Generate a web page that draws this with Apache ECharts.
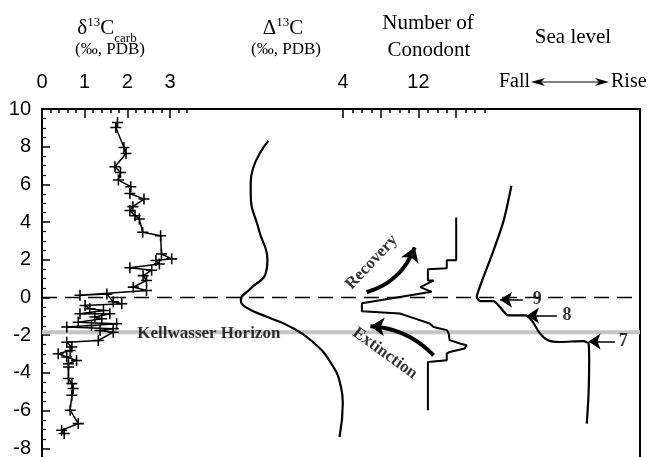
<!DOCTYPE html>
<html>
<head>
<meta charset="utf-8">
<script src="https://cdn.jsdelivr.net/npm/echarts@6/dist/echarts.min.js"></script>
<style>
  html, body { margin: 0; padding: 0; background: #fff; }
  #chart { width: 650px; height: 457px; }
</style>
</head>
<body>
<div id="chart"></div>
<script>
// Stratigraphic height (m): axis range, labels every 2 m
const heightRange = [-10, 10];

// δ13C carb (‰, PDB): [value, height]
const carbSeries = [
  [1.77, 9.28], [1.73, 9.02], [1.92, 7.96], [1.97, 7.64], [1.71, 6.94], [1.84, 6.63],
  [1.79, 6.23], [2.08, 5.88], [2.06, 5.52], [2.39, 5.22], [2.13, 4.82], [2.06, 4.61],
  [2.18, 4.34], [2.28, 4.17], [2.36, 3.46], [2.78, 3.28], [2.80, 2.31], [3.04, 2.05],
  [2.67, 1.96], [2.75, 1.78], [2.06, 1.58], [2.57, 1.45], [2.37, 1.16], [2.45, 0.90],
  [2.14, 0.55], [2.45, 0.37], [0.89, 0.12], [1.52, 0.18], [1.67, -0.22], [1.87, -0.33],
  [1.01, -0.42], [1.12, -0.60], [1.44, -0.69], [0.89, -0.86], [1.59, -0.86], [1.24, -1.04],
  [1.40, -1.13], [0.85, -1.31], [1.75, -1.39], [1.16, -1.48], [0.58, -1.57], [1.67, -1.66],
  [1.36, -1.75], [1.67, -1.84], [1.32, -2.28], [0.58, -2.37], [0.70, -2.63], [0.66, -2.81],
  [0.38, -2.98], [0.58, -3.16], [0.81, -3.34], [0.62, -3.51], [0.62, -3.69], [0.62, -4.30],
  [0.70, -4.57], [0.73, -4.83], [0.70, -5.19], [0.66, -5.98], [0.85, -6.69], [0.46, -7.04],
  [0.52, -7.22]
];
const carbTickLabels = [0, 1, 2, 3];
const carbTickRange = [0, 3, 3.4];        // labelled span, then minor-only tail

// Δ13C (‰): [value, height]
const deltaSeries = [
  [27.57, 8.31], [26.98, 6.10], [26.98, 5.51], [27.26, 3.55], [27.54, 1.96], [27.48, 1.27],
  [26.98, 0.48], [26.65, -0.16], [26.81, -0.51], [27.54, -1.04], [28.21, -1.48],
  [29.00, -2.28], [29.67, -3.49], [30.00, -4.75], [30.06, -5.61], [29.95, -7.40]
];

// Number of conodont species: [count, height]
const conodontSeries = [
  [16, 4.25], [16, 1.98], [15, 1.98], [15, 1.55], [13, 1.50], [13, 0.90], [13.6, 0.90],
  [12.2, 0.55], [13.4, 0.30], [6, -0.30], [6, -0.73], [10, -0.85], [11.1, -1.03],
  [13.2, -1.38], [13.6, -1.56], [15, -1.73], [15.2, -1.90], [15.3, -2.26], [16.4, -2.44],
  [17.1, -2.53], [16.9, -2.71], [15.3, -2.89], [15, -2.98], [15, -3.33], [13, -3.42], [13, -5.98]
];
const conodontTickLabels = [4, 12];
const conodontTickRange = [4, 16, 19];    // major span, then minor-only tail

// Relative sea level (fall → rise): [index, height]
const seaLevelSeries = [
  [78.5, 5.93], [77.2, 4.08], [75.5, 2.49], [73.8, 1.07], [73.0, 0.37], [72.7, 0.02],
  [73.3, -0.19], [75.5, -0.19], [76.6, -0.51], [78.0, -0.95], [80.8, -0.95], [81.9, -1.22],
  [83.3, -1.92], [84.7, -2.28], [86.6, -2.36], [90.5, -2.31], [91.4, -2.45], [91.5, -3.34],
  [91.4, -5.10], [91.1, -6.69]
];
// Sea-level event markers: [label, tip index, tail index, text index, height]
const seaEvents = [
  ['9', 76.6, 80.4, 82.8, -0.12],
  ['8', 81.1, 86.1, 87.8, -0.95],
  ['7', 91.4, 95.8, 97.2, -2.33]
];

const zeroLine = 0;
const kellwasserLevel = -1.85;
const carbAxisMax = 14.015;
const conodontAxisRange = [-27.92, 35.49];

const serif = '"Liberation Serif", "Times New Roman", serif';
const sans = '"Liberation Sans", Arial, sans-serif';

// Main plot frame geometry
const plotLeft = 42, plotWidth = 598, plotTop = 109;
const carbScale = plotWidth / carbAxisMax;
const conodontScale = plotWidth / (conodontAxisRange[1] - conodontAxisRange[0]);

const chart = echarts.init(document.getElementById('chart'), null, { renderer: 'canvas' });

const plusSymbol = 'path://M4.3,0H5.7V4.3H10V5.7H5.7V10H4.3V5.7H0V4.3H4.3Z';

function hiddenX(min, max, labels) {
  return {
    type: 'value', position: 'top', min: min, max: max,
    axisLine: { show: false, onZero: false }, axisTick: { show: false },
    axisLabel: labels
      ? { show: true, customValues: labels, margin: 17, fontSize: 20, color: '#000', fontFamily: sans }
      : { show: false },
    splitLine: { show: false }
  };
}

// Thin strips along the top frame that carry the inward tick marks of each scale
const tickStrips = [
  { left: plotLeft + carbTickRange[0] * carbScale, width: (carbTickRange[1] - carbTickRange[0]) * carbScale,
    min: carbTickRange[0], max: carbTickRange[1], interval: 1, len: 9, minor: 5 },
  { left: plotLeft + carbTickRange[1] * carbScale, width: (carbTickRange[2] - carbTickRange[1]) * carbScale,
    min: carbTickRange[1], max: carbTickRange[2], interval: 0.2, len: 4, minor: 0 },
  { left: plotLeft + (conodontTickRange[0] - conodontAxisRange[0]) * conodontScale,
    width: (conodontTickRange[1] - conodontTickRange[0]) * conodontScale,
    min: conodontTickRange[0], max: conodontTickRange[1], interval: 4, len: 9, minor: 4 },
  { left: plotLeft + (conodontTickRange[1] - conodontAxisRange[0]) * conodontScale,
    width: (conodontTickRange[2] - conodontTickRange[1]) * conodontScale,
    min: conodontTickRange[1], max: conodontTickRange[2], interval: 1, len: 4, minor: 0 }
];

const plainLabel = { textBorderWidth: 0, textBorderColor: 'transparent', textShadowBlur: 0 };

const grids = [{ left: plotLeft, right: 650 - plotLeft - plotWidth, top: plotTop, bottom: -29, outerBoundsMode: 'none' }]
  .concat(tickStrips.map(s => ({ left: s.left, width: s.width, top: plotTop, height: 1, outerBoundsMode: 'none' })));

const stripXAxes = tickStrips.map((s, i) => ({
  type: 'value', gridIndex: i + 1, position: 'top', min: s.min, max: s.max, interval: s.interval,
  axisLine: { show: false, onZero: false },
  axisTick: { show: true, inside: true, length: s.len, lineStyle: { color: '#000', width: 1.5 } },
  minorTick: { show: s.minor > 0, splitNumber: s.minor || 5, length: 4, lineStyle: { color: '#000', width: 1.5 } },
  axisLabel: { show: false }, splitLine: { show: false }, minorSplitLine: { show: false }
}));
const stripYAxes = tickStrips.map((s, i) => ({
  type: 'value', gridIndex: i + 1, min: 0, max: 1, show: false
}));

const option = {
  animation: false,
  backgroundColor: '#fff',
  grid: grids,
  xAxis: [
    { // δ13C axis + top frame line
      type: 'value', gridIndex: 0, position: 'top', min: 0, max: carbAxisMax,
      axisLine: { show: true, onZero: false, lineStyle: { color: '#000', width: 2 } },
      axisTick: { show: false },
      axisLabel: { show: true, customValues: carbTickLabels, margin: 17, fontSize: 20, color: '#000', fontFamily: sans },
      splitLine: { show: false }
    },
    hiddenX(20, 40), // Δ13C
    hiddenX(conodontAxisRange[0], conodontAxisRange[1], conodontTickLabels), // conodont count
    hiddenX(0, 100) // sea level
  ].concat(stripXAxes),
  yAxis: [
    {
      type: 'value', gridIndex: 0, position: 'left', min: heightRange[0], max: heightRange[1], interval: 2,
      axisLine: { show: true, onZero: false, lineStyle: { color: '#000', width: 2 } },
      axisTick: { show: true, inside: true, length: 8, lineStyle: { color: '#000', width: 1.5 } },
      minorTick: { show: true, splitNumber: 4, length: 4, lineStyle: { color: '#000', width: 1.2 } },
      axisLabel: { show: true, margin: 11, fontSize: 20, color: '#000', fontFamily: sans },
      splitLine: { show: false }
    },
    {
      type: 'value', gridIndex: 0, position: 'right', min: heightRange[0], max: heightRange[1],
      axisLine: { show: true, onZero: false, lineStyle: { color: '#000', width: 2 } },
      axisTick: { show: false }, axisLabel: { show: false }, splitLine: { show: false }
    }
  ].concat(stripYAxes),
  series: [
    { // Kellwasser Horizon band
      type: 'line', xAxisIndex: 0, yAxisIndex: 0, z: 1, silent: true, showSymbol: false,
      data: [[0, kellwasserLevel], [carbAxisMax, kellwasserLevel]],
      lineStyle: { color: '#c4c4c4', width: 4 }
    },
    { // F/F boundary
      type: 'line', xAxisIndex: 0, yAxisIndex: 0, z: 2, silent: true, showSymbol: false,
      data: [[0, zeroLine], [carbAxisMax, zeroLine]],
      lineStyle: { color: '#000', width: 1.5, type: [15, 8] }
    },
    {
      name: 'δ13C carb', type: 'line', xAxisIndex: 0, yAxisIndex: 0, z: 3,
      data: carbSeries,
      symbol: plusSymbol, symbolSize: 11,
      itemStyle: { color: '#000' },
      lineStyle: { color: '#000', width: 1.5 }
    },
    {
      name: 'Δ13C', type: 'line', xAxisIndex: 1, yAxisIndex: 0, z: 3,
      data: deltaSeries, smooth: 0.5, showSymbol: false,
      lineStyle: { color: '#000', width: 2.2 }
    },
    {
      name: 'Number of conodont', type: 'line', xAxisIndex: 2, yAxisIndex: 0, z: 3,
      data: conodontSeries, showSymbol: false,
      lineStyle: { color: '#000', width: 2 }
    },
    {
      name: 'Sea level', type: 'line', xAxisIndex: 3, yAxisIndex: 0, z: 3,
      data: seaLevelSeries, smooth: 0.25, showSymbol: false,
      lineStyle: { color: '#000', width: 2.2 }
    },
    { // sea-level event arrows
      type: 'lines', coordinateSystem: 'cartesian2d', xAxisIndex: 3, yAxisIndex: 0, z: 4,
      symbol: ['none', 'arrow'], symbolSize: [8, 12],
      lineStyle: { color: '#000', width: 1.5, curveness: 0, opacity: 1 },
      data: seaEvents.map(e => ({ coords: [[e[2], e[4]], [e[1], e[4]]] }))
    },
    {
      type: 'scatter', xAxisIndex: 3, yAxisIndex: 0, z: 4, symbolSize: 0,
      data: seaEvents.map(e => ({ value: [e[3], e[4]], label: { formatter: e[0] } })),
      label: Object.assign({ show: true, position: 'inside', color: '#000', fontFamily: serif, fontWeight: 'bold', fontSize: 18 }, plainLabel)
    },
    { // recovery / extinction trend arrows
      type: 'lines', coordinateSystem: 'cartesian2d', xAxisIndex: 2, yAxisIndex: 0, z: 4,
      symbol: ['none', 'arrow'], symbolSize: [12, 14],
      lineStyle: { color: '#000', width: 4, opacity: 1 },
      data: [
        { coords: [[6.5, 0.28], [11.6, 2.66]], lineStyle: { curveness: -0.25 } },
        { coords: [[13.6, -3.07], [6.9, -1.52]], lineStyle: { curveness: -0.2 } }
      ]
    },
    {
      type: 'scatter', xAxisIndex: 2, yAxisIndex: 0, z: 4, symbolSize: 0,
      data: [
        { value: [7.04, 1.87], label: { formatter: 'Recovery', rotate: 47 } },
        { value: [8.45, -2.96], label: { formatter: 'Extinction', rotate: -36 } }
      ],
      label: Object.assign({ show: true, position: 'inside', color: '#000', fontFamily: serif, fontWeight: 'bold', fontSize: 17 }, plainLabel)
    },
    {
      type: 'scatter', xAxisIndex: 0, yAxisIndex: 0, z: 4, symbolSize: 0,
      data: [{ value: [3.91, -1.9], label: { formatter: 'Kellwasser Horizon' } }],
      label: Object.assign({ show: true, position: 'inside', color: '#000', fontFamily: serif, fontWeight: 'bold', fontSize: 17 }, plainLabel)
    }
  ],
  graphic: [
    {
      type: 'text', x: 107, y: 28,
      style: {
        text: 'δ{sup|13}C{sub|carb}', fill: '#000', font: '21px ' + serif, align: 'center', verticalAlign: 'middle',
        rich: {
          sup: { fontSize: 13, fontFamily: serif, verticalAlign: 'top', lineHeight: 24 },
          sub: { fontSize: 13, fontFamily: serif, verticalAlign: 'bottom', lineHeight: 12, padding: [0, 0, -5, 0] }
        }
      }
    },
    { type: 'text', x: 110, y: 50, style: { text: '(‰, PDB)', fill: '#000', font: '17px ' + serif, align: 'center', verticalAlign: 'middle' } },
    {
      type: 'text', x: 283, y: 28,
      style: {
        text: 'Δ{sup|13}C', fill: '#000', font: '21px ' + serif, align: 'center', verticalAlign: 'middle',
        rich: { sup: { fontSize: 13, fontFamily: serif, verticalAlign: 'top', lineHeight: 24 } }
      }
    },
    { type: 'text', x: 286, y: 50, style: { text: '(‰, PDB)', fill: '#000', font: '17px ' + serif, align: 'center', verticalAlign: 'middle' } },
    { type: 'text', x: 428, y: 23, style: { text: 'Number of', fill: '#000', font: '21px ' + serif, align: 'center', verticalAlign: 'middle' } },
    { type: 'text', x: 429, y: 50, style: { text: 'Conodont', fill: '#000', font: '21px ' + serif, align: 'center', verticalAlign: 'middle' } },
    { type: 'text', x: 573, y: 37, style: { text: 'Sea level', fill: '#000', font: '21px ' + serif, align: 'center', verticalAlign: 'middle' } },
    { type: 'text', x: 499, y: 82, style: { text: 'Fall', fill: '#000', font: '20px ' + serif, align: 'left', verticalAlign: 'middle' } },
    { type: 'text', x: 611, y: 82, style: { text: 'Rise', fill: '#000', font: '20px ' + serif, align: 'left', verticalAlign: 'middle' } },
    { type: 'line', shape: { x1: 540, y1: 82, x2: 600, y2: 82 }, style: { stroke: '#000', lineWidth: 1.2 } },
    { type: 'polygon', shape: { points: [[531, 82], [545, 78], [541, 82], [545, 86]] }, style: { fill: '#000' } },
    { type: 'polygon', shape: { points: [[609, 82], [595, 78], [599, 82], [595, 86]] }, style: { fill: '#000' } }
  ]
};

chart.setOption(option);
</script>
</body>
</html>
